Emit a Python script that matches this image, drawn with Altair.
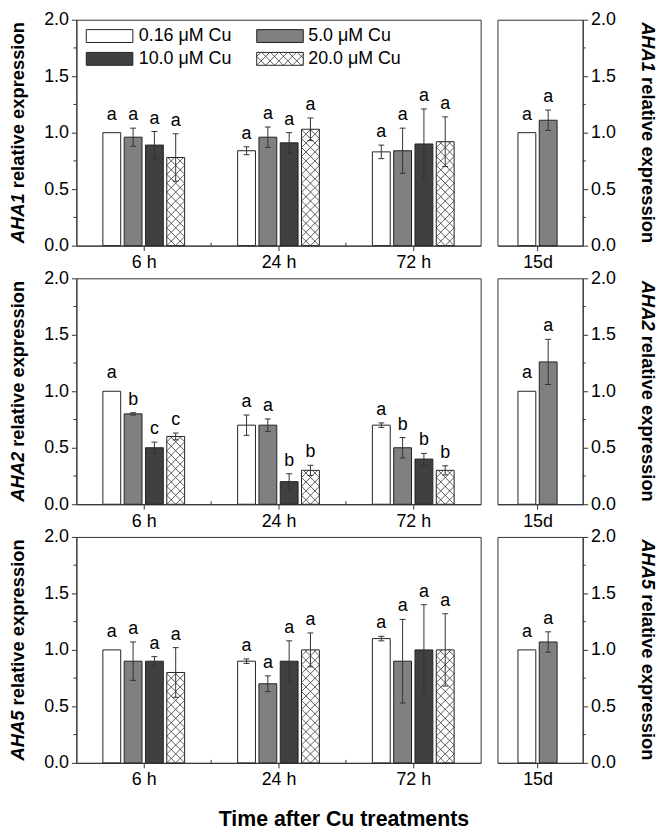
import math
import altair as alt
import pandas as pd

# ---------------- data ----------------
GENES = ["AHA1", "AHA2", "AHA5"]
TIMES = ["6 h", "24 h", "72 h"]
LONG_LABEL = "15d"
CONC = ["0.16 μM Cu", "5.0 μM Cu", "10.0 μM Cu", "20.0 μM Cu"]
COLORS = ["#ffffff", "#808080", "#404040", "#ffffff"]
HATCHED = [False, False, False, True]

# [time][concentration]
AHA1_MEAN = [[1.00, 0.96, 0.89, 0.78], [0.84, 0.96, 0.91, 1.03], [0.83, 0.84, 0.90, 0.92]]
AHA1_ERR = [[0.00, 0.08, 0.12, 0.21], [0.035, 0.09, 0.09, 0.10], [0.06, 0.20, 0.31, 0.22]]
AHA1_SIG = [["a", "a", "a", "a"], ["a", "a", "a", "a"], ["a", "a", "a", "a"]]

AHA2_MEAN = [[1.00, 0.80, 0.50, 0.60], [0.70, 0.70, 0.20, 0.30], [0.70, 0.50, 0.40, 0.30]]
AHA2_ERR = [[0.00, 0.01, 0.05, 0.03], [0.09, 0.055, 0.07, 0.045], [0.02, 0.09, 0.05, 0.04]]
AHA2_SIG = [["a", "b", "c", "c"], ["a", "a", "b", "b"], ["a", "b", "b", "b"]]

AHA5_MEAN = [[1.00, 0.90, 0.90, 0.80], [0.90, 0.70, 0.90, 1.00], [1.10, 0.90, 1.00, 1.00]]
AHA5_ERR = [[0.00, 0.17, 0.04, 0.22], [0.02, 0.07, 0.18, 0.15], [0.02, 0.37, 0.40, 0.32]]
AHA5_SIG = [["a", "a", "a", "a"], ["a", "a", "a", "a"], ["a", "a", "a", "a"]]

# 15 d panel: first two concentrations, per gene
LONG_MEAN = [[1.00, 1.11], [1.00, 1.26], [1.00, 1.07]]
LONG_ERR = [[0.00, 0.09], [0.00, 0.20], [0.00, 0.09]]
LONG_SIG = [["a", "a"], ["a", "a"], ["a", "a"]]

Y_TICKS = [0.0, 0.5, 1.0, 1.5, 2.0]
Y_MINOR = [0.25, 0.75, 1.25, 1.75]
X_MINOR = [1, 2]
XLABEL = "Time after Cu treatments"
YLABEL = "relative expression"

MEANS = [AHA1_MEAN, AHA2_MEAN, AHA5_MEAN]
ERRS = [AHA1_ERR, AHA2_ERR, AHA5_ERR]
SIGS = [AHA1_SIG, AHA2_SIG, AHA5_SIG]

# ---------------- layout / style ----------------
W_MAIN, W_SIDE, H = 408, 86, 228
KX = W_MAIN / 3.0      # px per x unit (main)
KS = W_SIDE / 1.0      # px per x unit (side)
KY = H / 2.0           # px per y unit
BAR_W = 18.0
BAR_STEP = 21.5
CAP_W = 6.0
HATCH = 9.0
SIDE_CENTER = 0.47
FONT = "Liberation Sans"
FS = 18
FS_T = 18.5
EM_TOTAL = 12.06        # width of "AHA1 relative expression" in em (Arial bold)
LABEL_GAP_NOERR = 5.0   # extra px above bars without error bar
EDGE = "#222222"
ERRC = "#333333"

fill_scale = alt.Scale(domain=CONC, range=COLORS)


def hatch_segments(X0, X1, Y0, Y1, p):
    """diagonal cross-hatch lines inside a pixel rectangle (y up)"""
    w, h = X1 - X0, Y1 - Y0
    segs = []
    for k in range(int(math.floor(-w / p)) - 1, int(math.ceil(h / p)) + 2):
        c = k * p
        lo, hi = max(0.0, -c), min(w, h - c)
        if hi - lo > 0.3:
            segs.append((X0 + lo, Y0 + lo + c, X0 + hi, Y0 + hi + c))
    for k in range(-1, int(math.ceil((w + h) / p)) + 2):
        c = k * p
        lo, hi = max(0.0, c - h), min(w, c)
        if hi - lo > 0.3:
            segs.append((X0 + lo, Y0 + c - lo, X0 + hi, Y0 + c - hi))
    return segs


def bar_table(means, errs, sigs, groups, center_of, kx):
    rows = []
    n = len(means[0])
    for i, grp in enumerate(groups):
        for j in range(n):
            cx = center_of(i) + (j - (n - 1) / 2.0) * BAR_STEP / kx
            m, e = means[i][j], errs[i][j]
            rows.append(dict(
                grp=grp, conc=CONC[j], hatched=HATCHED[j],
                x0=cx - BAR_W / 2 / kx, x1=cx + BAR_W / 2 / kx, xc=cx,
                cl=cx - CAP_W / 2 / kx, cr=cx + CAP_W / 2 / kx,
                val=m, zero=0.0, err=e, lo=m - e, hi=m + e,
                lab=m + e + (LABEL_GAP_NOERR / KY if e == 0 else 0.0),
                sig=sigs[i][j]))
    return pd.DataFrame(rows)


def hatch_table(df, kx):
    rows = []
    for r in df[df["hatched"]].to_dict("records"):
        for (a, b, c, d) in hatch_segments(r["x0"] * kx, r["x1"] * kx, 0.0, r["val"] * KY, HATCH):
            rows.append(dict(hx1=a / kx, hy1=b / KY, hx2=c / kx, hy2=d / KY))
    return pd.DataFrame(rows)


def panel_layers(df, X, Y, kx):
    layers = [alt.Chart(df).mark_rect(stroke=EDGE, strokeWidth=1).encode(
        x=X("x0:Q"), x2="x1:Q", y=Y("val:Q"), y2="zero:Q",
        fill=alt.Fill("conc:N", scale=fill_scale, legend=None),
    )]
    hdf = hatch_table(df, kx)
    if len(hdf):
        layers.append(alt.Chart(hdf).mark_rule(color="#333333", strokeWidth=0.8).encode(
            x=X("hx1:Q"), x2="hx2:Q", y=Y("hy1:Q"), y2="hy2:Q"))
    edf = df[df["err"] > 0]
    layers.append(alt.Chart(edf).mark_rule(color=ERRC, strokeWidth=1).encode(
        x=X("xc:Q"), y=Y("lo:Q"), y2="hi:Q"))
    for end in ["lo", "hi"]:
        layers.append(alt.Chart(edf).mark_rule(color=ERRC, strokeWidth=1).encode(
            x=X("cl:Q"), x2="cr:Q", y=Y(f"{end}:Q")))
    layers.append(alt.Chart(df).mark_text(
        font=FONT, fontSize=FS, baseline="alphabetic", dy=-8, color="#000").encode(
        x=X("xc:Q"), y=Y("lab:Q"), text="sig:N"))
    return layers


def ytitle_layers(gene, xpix, angle):
    half = 0.5 * EM_TOTAL * FS_T
    d = pd.DataFrame({"gene": [gene]})
    if angle == 270:
        y_start, y_end = H / 2 + half, H / 2 - half
    else:
        y_start, y_end = H / 2 - half, H / 2 + half
    t1 = alt.Chart(d).mark_text(angle=angle, align="left", baseline="middle", font=FONT,
                                fontSize=FS_T, fontWeight="bold", fontStyle="italic",
                                color="#000").encode(
        x=alt.value(xpix), y=alt.value(y_start), text="gene:N")
    t2 = alt.Chart(d).mark_text(angle=angle, align="right", baseline="middle", font=FONT,
                                fontSize=FS_T, fontWeight="bold", color="#000",
                                text=YLABEL).encode(
        x=alt.value(xpix), y=alt.value(y_end))
    return [t1, t2]


def make_xy(xs, ys, xaxis, yaxis):
    def X(f):
        return alt.X(f, scale=xs, axis=xaxis)

    def Y(f):
        return alt.Y(f, scale=ys, axis=yaxis)
    return X, Y


cells = []
for g, gene in enumerate(GENES):
    # ---------- main panel ----------
    xs = alt.Scale(domain=[0, 3], nice=False, zero=False)
    ys = alt.Scale(domain=[0, 2], nice=False, zero=False)
    xaxis = alt.Axis(values=[0.5, 1.5, 2.5], labelExpr=f"{TIMES}[floor(datum.value)]",
                     title=None, grid=False, tickSize=5, labelPadding=3)
    yaxis = alt.Axis(values=Y_TICKS, format=".1f", title=None, grid=False,
                     tickSize=5, labelPadding=3)
    X, Y = make_xy(xs, ys, xaxis, yaxis)
    df = bar_table(MEANS[g], ERRS[g], SIGS[g], TIMES, lambda i: i + 0.5, KX)
    layers = panel_layers(df, X, Y, KX)
    # minor ticks
    layers.append(alt.Chart(pd.DataFrame({"v": Y_MINOR})).mark_rule(color="#333").encode(
        y=Y("v:Q"), x=alt.value(0), x2=alt.value(-3)))
    layers.append(alt.Chart(pd.DataFrame({"v": X_MINOR})).mark_rule(color="#333").encode(
        x=X("v:Q"), y=alt.value(H), y2=alt.value(H - 3)))
    layers += ytitle_layers(gene, -59, 270)

    if g == 0:
        # legend (2 x 2) in upper-left of first panel, pixel layout converted to data units
        LEG_X0 = [10, 182]
        LEG_Y0 = [10, 33]
        LEG_TX = [63, 234]
        BOX_W, BOX_H = 47, 13
        lrows, lh = [], []
        for j, c in enumerate(CONC):
            col, row = j % 2, j // 2
            px0, px1 = LEG_X0[col], LEG_X0[col] + BOX_W
            py0, py1 = LEG_Y0[row], LEG_Y0[row] + BOX_H
            lrows.append(dict(conc=c, lx0=px0 / KX, lx1=px1 / KX,
                              ly0=2 - py0 / KY, ly1=2 - py1 / KY,
                              tx=LEG_TX[col] / KX, ty=2 - (py0 + py1) / 2 / KY))
            if HATCHED[j]:
                for (a, b, cc, d) in hatch_segments(px0, px1, H - py1, H - py0, HATCH):
                    lh.append(dict(hx1=a / KX, hy1=b / KY, hx2=cc / KX, hy2=d / KY))
        ldf = pd.DataFrame(lrows)
        layers.append(alt.Chart(ldf).mark_rect(stroke=EDGE, strokeWidth=1).encode(
            x=X("lx0:Q"), x2="lx1:Q", y=Y("ly0:Q"), y2="ly1:Q",
            fill=alt.Fill("conc:N", scale=fill_scale, legend=None)))
        layers.append(alt.Chart(pd.DataFrame(lh)).mark_rule(color="#333333", strokeWidth=0.8).encode(
            x=X("hx1:Q"), x2="hx2:Q", y=Y("hy1:Q"), y2="hy2:Q"))
        layers.append(alt.Chart(ldf).mark_text(align="left", baseline="middle", font=FONT,
                                               fontSize=FS, color="#000").encode(
            x=X("tx:Q"), y=Y("ty:Q"), text="conc:N"))

    if g == len(GENES) - 1:
        layers.append(alt.Chart(pd.DataFrame({"t": [XLABEL]})).mark_text(
            align="center", baseline="alphabetic", font=FONT, fontSize=21.5,
            fontWeight="bold", color="#000").encode(
            x=alt.value(270), y=alt.value(H + 64), text="t:N"))

    cells.append(alt.layer(*layers).properties(width=W_MAIN, height=H))

    # ---------- 15 d panel ----------
    xs2 = alt.Scale(domain=[0, 1], nice=False, zero=False)
    ys2 = alt.Scale(domain=[0, 2], nice=False, zero=False)
    xaxis2 = alt.Axis(values=[SIDE_CENTER], labelExpr=f"'{LONG_LABEL}'", title=None,
                      grid=False, tickSize=5, labelPadding=3)
    yaxis2 = alt.Axis(values=Y_TICKS, format=".1f", title=None, grid=False, orient="right",
                      tickSize=5, labelPadding=3)
    X2, Y2 = make_xy(xs2, ys2, xaxis2, yaxis2)
    df2 = bar_table([LONG_MEAN[g]], [LONG_ERR[g]], [LONG_SIG[g]], [LONG_LABEL],
                    lambda i: SIDE_CENTER, KS)
    layers2 = panel_layers(df2, X2, Y2, KS)
    layers2.append(alt.Chart(pd.DataFrame({"v": Y_MINOR})).mark_rule(color="#333").encode(
        y=Y2("v:Q"), x=alt.value(W_SIDE), x2=alt.value(W_SIDE + 3)))
    layers2 += ytitle_layers(gene, W_SIDE + 66, 90)
    cells.append(alt.layer(*layers2).properties(width=W_SIDE, height=H))

chart = alt.concat(*cells, columns=2, spacing={"row": 33, "column": 17},
                   bounds="flush", align="each").properties(
    padding={"left": 0, "top": -2, "right": 0, "bottom": 0}
).configure_view(stroke="#333333", strokeWidth=1).configure_axis(
    domainColor="#333333", tickColor="#333333", labelColor="#000000",
    labelFont=FONT, labelFontSize=FS, grid=False, domainWidth=1, tickWidth=1)

chart.save("out.html", embed_options={"renderer": "svg", "actions": False})
